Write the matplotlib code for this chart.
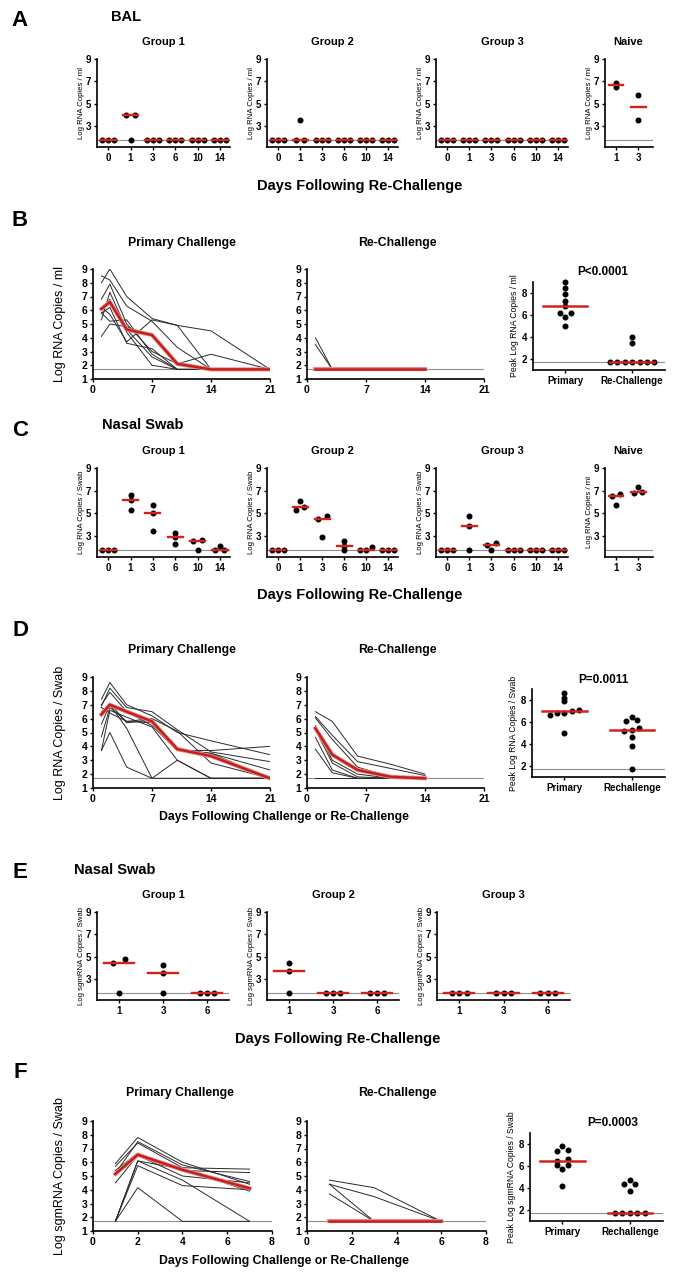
import numpy as np
import matplotlib
matplotlib.use('Agg')
import matplotlib.pyplot as plt

plt.rcParams['font.family'] = ['Liberation Sans', 'DejaVu Sans']
plt.rcParams['font.weight'] = 'bold'

RED = '#d2231b'
GREY = '#8f8f8f'
LOD = 1.7

# ---- data ----
# A: BAL, log RNA copies / ml after re-challenge
A_days = ['0', '1', '3', '6', '10', '14']
A_g1 = [[1.7, 1.7, 1.7], [4.0, 4.0, 1.7], [1.7, 1.7, 1.7], [1.7, 1.7, 1.7], [1.7, 1.7, 1.7], [1.7, 1.7, 1.7]]
A_g2 = [[1.7, 1.7, 1.7], [3.5, 1.7, 1.7], [1.7, 1.7, 1.7], [1.7, 1.7, 1.7], [1.7, 1.7, 1.7], [1.7, 1.7, 1.7]]
A_g3 = [[1.7, 1.7, 1.7], [1.7, 1.7, 1.7], [1.7, 1.7, 1.7], [1.7, 1.7, 1.7], [1.7, 1.7, 1.7], [1.7, 1.7, 1.7]]
naive_days = ['1', '3']
A_naive = [[6.85, 6.5], [5.8, 3.5]]

# B: BAL primary vs re-challenge
B_days = [1, 2, 4, 7, 10, 14, 21]
B_primary = [
    [8.0, 9.0, 7.0, 5.4, 4.9, 4.5, 1.7],
    [8.5, 8.2, 6.3, 5.2, 3.3, 1.7, 1.7],
    [6.8, 7.9, 5.0, 3.0, 2.1, 2.8, 1.7],
    [5.3, 7.3, 4.6, 2.6, 1.7, 1.7, 1.7],
    [6.0, 6.8, 4.4, 2.0, 1.7, 1.7, 1.7],
    [6.2, 5.7, 3.7, 5.3, 4.9, 1.7, 1.7],
    [5.8, 6.2, 3.6, 3.2, 1.7, 1.7, 1.7],
    [5.8, 5.2, 5.3, 2.8, 1.7, 1.7, 1.7],
    [4.1, 5.0, 4.8, 4.1, 2.1, 1.7, 1.7],
]
B_primary_mean = [6.1, 6.6, 4.6, 4.2, 2.1, 1.7, 1.7]
re_days = [1, 3, 6, 10, 14]
B_re = [
    [4.0, 1.7, 1.7, 1.7, 1.7],
    [3.5, 1.7, 1.7, 1.7, 1.7],
    [1.7, 1.7, 1.7, 1.7, 1.7],
    [1.7, 1.7, 1.7, 1.7, 1.7],
    [1.7, 1.7, 1.7, 1.7, 1.7],
    [1.7, 1.7, 1.7, 1.7, 1.7],
    [1.7, 1.7, 1.7, 1.7, 1.7],
    [1.7, 1.7, 1.7, 1.7, 1.7],
    [1.7, 1.7, 1.7, 1.7, 1.7],
]
B_re_mean = [1.7, 1.7, 1.7, 1.7, 1.7]

# C: nasal swab, log RNA copies / swab after re-challenge
C_g1 = [[1.7, 1.7, 1.7], [6.6, 6.2, 5.3], [5.75, 5.0, 3.45], [3.2, 2.85, 2.25], [2.6, 2.5, 1.7], [2.05, 1.7, 1.7]]
C_g2 = [[1.7, 1.7, 1.7], [6.1, 5.5, 5.3], [4.7, 4.5, 2.85], [2.5, 2.05, 1.7], [1.95, 1.7, 1.7], [1.7, 1.7, 1.7]]
C_g3 = [[1.7, 1.7, 1.7], [4.7, 3.85, 1.7], [2.3, 2.2, 1.7], [1.7, 1.7, 1.7], [1.7, 1.7, 1.7], [1.7, 1.7, 1.7]]
C_naive = [[6.7, 6.55, 5.7], [7.35, 6.9, 6.75]]

# D: nasal swab primary vs re-challenge
D_primary = [
    [7.4, 8.6, 7.0, 6.2, 5.0, 4.4, 3.4],
    [6.9, 8.2, 6.8, 6.5, 5.2, 3.6, 2.9],
    [7.0, 7.9, 6.5, 5.5, 3.7, 3.7, 4.0],
    [6.5, 7.1, 5.7, 5.9, 3.8, 3.5, 2.3],
    [5.6, 7.0, 5.3, 1.7, 3.0, 1.7, 1.7],
    [4.7, 6.8, 5.8, 6.0, 5.1, 2.8, 1.7],
    [3.7, 6.6, 6.1, 5.4, 3.0, 1.7, 1.7],
    [6.8, 6.4, 5.8, 5.7, 3.7, 3.5, 1.7],
    [3.7, 5.0, 2.5, 1.7, 1.7, 1.7, 1.7],
]
D_primary_mean = [6.3, 7.0, 6.5, 5.8, 3.8, 3.3, 1.7]
D_re = [
    [6.5, 5.8, 3.3, 2.7, 2.0],
    [6.15, 4.8, 2.9, 2.4, 1.9],
    [6.05, 4.5, 2.5, 1.8, 1.7],
    [5.5, 3.0, 2.0, 1.7, 1.7],
    [5.3, 3.4, 2.3, 1.7, 1.7],
    [5.2, 2.8, 1.8, 1.7, 1.7],
    [4.65, 2.3, 1.7, 1.7, 1.7],
    [3.8, 2.1, 1.7, 1.7, 1.7],
    [1.7, 1.7, 1.7, 1.7, 1.7],
]
D_re_mean = [5.3, 3.4, 2.3, 1.8, 1.7]

# E: nasal swab, log sgmRNA copies / swab
E_days = ['1', '3', '6']
E_g1 = [[4.75, 4.45, 1.7], [4.2, 3.55, 1.7], [1.7, 1.7, 1.7]]
E_g2 = [[4.45, 3.7, 1.7], [1.7, 1.7, 1.7], [1.7, 1.7, 1.7]]
E_g3 = [[1.7, 1.7, 1.7], [1.7, 1.7, 1.7], [1.7, 1.7, 1.7]]

# F: sgmRNA primary vs re-challenge
F_days = [1, 2, 4, 7]
F_primary = [
    [5.9, 7.8, 6.0, 4.4],
    [5.7, 7.4, 5.6, 5.5],
    [5.2, 7.5, 5.8, 4.6],
    [5.4, 6.66, 5.4, 5.25],
    [4.5, 6.5, 5.0, 4.5],
    [1.7, 6.1, 5.5, 3.9],
    [1.7, 6.1, 4.7, 1.7],
    [1.7, 5.75, 4.3, 4.0],
    [1.7, 4.15, 1.7, 1.7],
]
F_primary_mean = [5.15, 6.55, 5.45, 4.1]
F_re_days = [1, 3, 6]
F_re = [
    [4.7, 4.15, 1.7],
    [4.4, 3.5, 1.7],
    [4.4, 1.7, 1.7],
    [3.7, 1.7, 1.7],
    [1.7, 1.7, 1.7],
    [1.7, 1.7, 1.7],
    [1.7, 1.7, 1.7],
    [1.7, 1.7, 1.7],
    [1.7, 1.7, 1.7],
]
F_re_mean = [1.7, 1.7, 1.7]

W, H = 699, 1280
fig = plt.figure(figsize=(W / 100, H / 100), dpi=100)


def px_axes(x0, x1, y0, y1):
    return fig.add_axes([x0 / W, 1 - y1 / H, (x1 - x0) / W, (y1 - y0) / H])


def txt(x, y, s, size, **kw):
    fig.text(x / W, 1 - y / H, s, fontsize=size, ha='center', va='center', **kw)


def style(ax, lab=6):
    for side in ['top', 'right']:
        ax.spines[side].set_visible(False)
    for side in ['left', 'bottom']:
        ax.spines[side].set_linewidth(1.2)
    ax.tick_params(labelsize=lab, width=1, length=2.5, pad=1.5)


def swarm(vals, step, thr):
    vals = np.asarray(vals, dtype=float)
    order = np.argsort(vals, kind='stable')
    offs = np.zeros(len(vals))
    groups, cur = [], [order[0]]
    for a, b in zip(order[:-1], order[1:]):
        if vals[b] - vals[a] < thr:
            cur.append(b)
        else:
            groups.append(cur)
            cur = [b]
    groups.append(cur)
    for g in groups:
        n = len(g)
        if n < 2:
            continue
        s = step * 1.5 if n == 2 else step
        for i, idx in enumerate(g):
            offs[idx] = (i - (n - 1) / 2) * s
    return offs


def dot_panel(ax, labels, data, step, ylabel, xright):
    ax.axhline(LOD, color=GREY, lw=0.8, zorder=1)
    for i, vals in enumerate(data):
        offs = swarm(vals, step, 0.32)
        ax.plot(i + offs, vals, 'o', ms=3.3, color='black', zorder=3, clip_on=False)
        med = np.median(vals)
        ax.plot([i - 0.34, i + 0.34], [med, med], color=RED, lw=1.7, zorder=4)
    ax.set_xlim(-0.5, xright)
    ax.set_ylim(1.1, 9)
    ax.set_yticks([3, 5, 7, 9])
    ax.set_xticks(range(len(labels)))
    ax.set_xticklabels(labels)
    ax.set_ylabel(ylabel, fontsize=5.6, labelpad=1)
    style(ax, 7)


def line_panel(ax, days, lines, mdays, mean, xmax, xticks):
    ax.axhline(LOD, color=GREY, lw=0.8, zorder=1)
    for ln in lines:
        ax.plot(days, ln, color='#2a2a2a', lw=0.7, zorder=2)
    ax.plot(mdays, mean, color='#e89090', lw=3.0, zorder=3)
    ax.plot(mdays, mean, color='#c41f19', lw=1.8, zorder=4)
    ax.set_xlim(0, xmax)
    ax.set_ylim(1, 9)
    ax.set_yticks(range(1, 10))
    ax.set_xticks(xticks)
    style(ax, 7.5)


def peak_panel(ax, groups, labels, ylabel):
    ax.axhline(LOD, color=GREY, lw=0.8, zorder=1)
    for i, vals in enumerate(groups):
        offs = swarm(vals, 0.11, 0.28)
        ax.plot(i + offs, vals, 'o', ms=3.3, color='black', zorder=3, clip_on=False)
        med = np.median(vals)
        ax.plot([i - 0.33, i + 0.33], [med, med], color=RED, lw=1.8, zorder=4)
    ax.set_xlim(-0.48, 1.49)
    ax.set_ylim(1, 9)
    ax.set_yticks([2, 4, 6, 8])
    ax.set_xticks([0, 1])
    ax.set_xticklabels(labels, fontsize=7)
    ax.set_ylabel(ylabel, fontsize=6.2, labelpad=2)
    style(ax, 7)


# ---- A ----
txt(20, 20, 'A', 16)
txt(126, 17, 'BAL', 10.5)
for (x0, x1, t, d) in [(97, 230, 'Group 1', A_g1), (267, 398, 'Group 2', A_g2), (436, 568, 'Group 3', A_g3)]:
    ax = px_axes(x0, x1, 59, 147)
    dot_panel(ax, A_days, d, 0.27, 'Log RNA Copies / ml', 5.45)
    txt((x0 + x1) / 2, 42, t, 8)
ax = px_axes(605, 653, 59, 147)
dot_panel(ax, naive_days, A_naive, 0.27, 'Log RNA Copies / ml', 1.68)
txt(628, 42, 'Naive', 8)
txt(360, 186, 'Days Following Re-Challenge', 10.5)

# ---- B ----
txt(20, 220, 'B', 16)
ax = px_axes(93, 270, 269, 379)
line_panel(ax, B_days, B_primary, B_days, B_primary_mean, 21, [0, 7, 14, 21])
ax.set_ylabel('Log RNA Copies / ml', fontsize=9, fontweight='normal', labelpad=11)
txt(182, 243, 'Primary Challenge', 8.8)
ax = px_axes(307, 484, 269, 379)
line_panel(ax, re_days, B_re, re_days, B_re_mean, 21, [0, 7, 14, 21])
txt(397, 243, 'Re-Challenge', 8.8)
ax = px_axes(533, 665, 282, 370)
peak_panel(ax, [np.max(B_primary, axis=1), np.max(B_re, axis=1)], ['Primary', 'Re-Challenge'],
           'Peak Log RNA Copies / ml')
txt(603, 272, 'P<0.0001', 8.5)

# ---- C ----
txt(20, 430, 'C', 16)
txt(143, 425, 'Nasal Swab', 10.5)
for (x0, x1, t, d) in [(97, 230, 'Group 1', C_g1), (267, 398, 'Group 2', C_g2), (436, 568, 'Group 3', C_g3)]:
    ax = px_axes(x0, x1, 468, 557)
    dot_panel(ax, A_days, d, 0.27, 'Log RNA Copies / Swab', 5.45)
    txt((x0 + x1) / 2, 451, t, 8)
ax = px_axes(605, 653, 468, 557)
dot_panel(ax, naive_days, C_naive, 0.27, 'Log RNA Copies / ml', 1.68)
txt(628, 451, 'Naive', 8)
txt(360, 595, 'Days Following Re-Challenge', 10.5)

# ---- D ----
txt(20, 630, 'D', 16)
ax = px_axes(93, 270, 677, 788)
line_panel(ax, B_days, D_primary, B_days, D_primary_mean, 21, [0, 7, 14, 21])
ax.set_ylabel('Log RNA Copies / Swab', fontsize=9, fontweight='normal', labelpad=11)
txt(182, 650, 'Primary Challenge', 8.8)
ax = px_axes(307, 484, 677, 788)
line_panel(ax, re_days, D_re, re_days, D_re_mean, 21, [0, 7, 14, 21])
txt(397, 650, 'Re-Challenge', 8.8)
txt(284, 817, 'Days Following Challenge or Re-Challenge', 8.8)
ax = px_axes(532, 665, 689, 777)
peak_panel(ax, [np.max(D_primary, axis=1), np.max(D_re, axis=1)], ['Primary', 'Rechallenge'],
           'Peak Log RNA Copies / Swab')
txt(603, 680, 'P=0.0011', 8.5)

# ---- E ----
txt(20, 873, 'E', 16)
txt(115, 870, 'Nasal Swab', 10.5)
for (x0, x1, t, d) in [(97, 229, 'Group 1', E_g1), (267, 399, 'Group 2', E_g2), (437, 570, 'Group 3', E_g3)]:
    ax = px_axes(x0, x1, 912, 1000)
    dot_panel(ax, E_days, d, 0.17, 'Log sgmRNA Copies / Swab', 2.5)
    txt((x0 + x1) / 2, 895, t, 8)
txt(338, 1039, 'Days Following Re-Challenge', 10.5)

# ---- F ----
txt(20, 1073, 'F', 16)
ax = px_axes(93, 272, 1121, 1231)
line_panel(ax, F_days, F_primary, F_days, F_primary_mean, 8, [0, 2, 4, 6, 8])
ax.set_ylabel('Log sgmRNA Copies / Swab', fontsize=9, fontweight='normal', labelpad=11)
txt(180, 1093, 'Primary Challenge', 8.8)
ax = px_axes(307, 486, 1121, 1231)
line_panel(ax, F_re_days, F_re, F_re_days, F_re_mean, 8, [0, 2, 4, 6, 8])
txt(397, 1093, 'Re-Challenge', 8.8)
txt(284, 1261, 'Days Following Challenge or Re-Challenge', 8.8)
ax = px_axes(530, 663, 1133, 1221)
peak_panel(ax, [np.max(F_primary, axis=1), np.max(F_re, axis=1)], ['Primary', 'Rechallenge'],
           'Peak Log sgmRNA Copies / Swab')
txt(613, 1123, 'P=0.0003', 8.5)

fig.savefig('out.png', dpi=100)
